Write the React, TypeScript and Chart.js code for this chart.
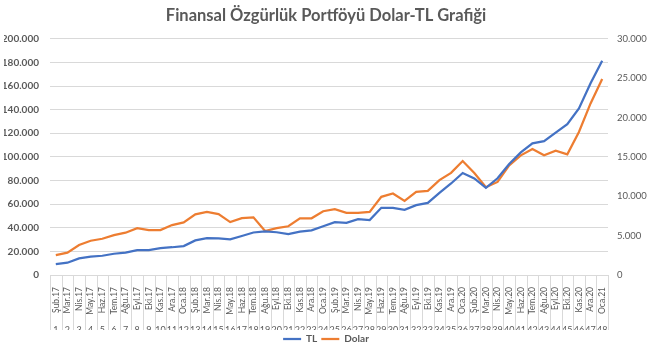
import { useEffect, useRef } from "react";
import { Chart, registerables } from "chart.js";
Chart.register(...registerables);

const titleText = "Finansal Özgürlük Portföyü Dolar-TL Grafiği";

const months = [
  "Şub.17", "Mar.17", "Nis.17", "May.17", "Haz.17", "Tem.17", "Ağu.17", "Eyl.17", "Eki.17", "Kas.17", "Ara.17", "Oca.18",
  "Şub.18", "Mar.18", "Nis.18", "May.18", "Haz.18", "Tem.18", "Ağu.18", "Eyl.18", "Eki.18", "Kas.18", "Ara.18", "Oca.19",
  "Şub.19", "Mar.19", "Nis.19", "May.19", "Haz.19", "Tem.19", "Ağu.19", "Eyl.19", "Eki.19", "Kas.19", "Ara.19", "Oca.20",
  "Şub.20", "Mar.20", "Nis.20", "May.20", "Haz.20", "Tem.20", "Ağu.20", "Eyl.20", "Eki.20", "Kas.20", "Ara.20", "Oca.21",
];

const indexLabels = [
  "1", "2", "3", "4", "5", "6", "7", "8", "9", "10", "11", "12",
  "13", "14", "15", "16", "17", "18", "19", "20", "21", "22", "23", "24",
  "25", "26", "27", "28", "29", "30", "31", "32", "33", "34", "35", "36",
  "37", "38", "39", "40", "41", "42", "43", "44", "45", "46", "47", "48",
];

const tlValues = [
  9300, 10400, 14100, 15500, 16300, 18000, 18900, 21100, 21100, 22800, 23500, 24500,
  29300, 31200, 31000, 30200, 33000, 36000, 37000, 36200, 34600, 36800, 37800, 41300,
  44800, 44200, 47300, 46500, 56900, 56900, 55200, 59200, 61100, 69600, 77500, 86400,
  81800, 73800, 81900, 94000, 103800, 111500, 113400, 120600, 127700, 141000, 162300, 181500,
];

const dolarValues = [
  2535, 2835, 3810, 4350, 4605, 5070, 5370, 5955, 5700, 5700, 6345, 6675,
  7700, 8000, 7725, 6720, 7230, 7330, 5580, 5960, 6190, 7200, 7200, 8100,
  8350, 7905, 7905, 8025, 9930, 10350, 9420, 10560, 10695, 12045, 12975, 14480,
  12950, 11150, 11820, 13920, 15200, 16000, 15210, 15780, 15330, 18165, 21795, 24900,
];

const leftTicks = { min: 0, max: 200000, step: 20000 };
const rightTicks = { min: 0, max: 30000, step: 5000 };

const FONT = "Lato, 'Open Sans', sans-serif";
const GREY = "#595959";
const GRID = "#d9d9d9";

const fmt = (v: number | string) =>
  String(v).replace(/\B(?=(\d{3})+(?!\d))/g, ".");

export default function App() {
  const ref = useRef<HTMLCanvasElement>(null);

  useEffect(() => {
    document.body.style.margin = "0";
    const sepPlugin = {
      id: "sep",
      afterDraw(chart: any) {
        const x = chart.scales.x;
        const x2 = chart.scales.x2;
        const ctx = chart.ctx;
        const n = months.length;
        const w = (x.right - x.left) / n;
        ctx.save();
        ctx.strokeStyle = GRID;
        ctx.lineWidth = 1;
        for (let i = 0; i <= n; i++) {
          const px = Math.round(x.left + i * w) + 0.5;
          ctx.beginPath();
          ctx.moveTo(px, chart.chartArea.bottom);
          ctx.lineTo(px, x2.bottom);
          ctx.stroke();
        }
        ctx.restore();
      },
    };

    const chart = new Chart(ref.current as HTMLCanvasElement, {
      type: "line",
      data: {
        labels: months,
        datasets: [
          {
            label: "TL",
            data: tlValues,
            borderColor: "#4472C4",
            backgroundColor: "#4472C4",
            borderWidth: 2.25,
            pointRadius: 0,
            tension: 0,
            xAxisID: "x",
            yAxisID: "y",
          },
          {
            label: "Dolar",
            data: dolarValues,
            borderColor: "#ED7D31",
            backgroundColor: "#ED7D31",
            borderWidth: 2.25,
            pointRadius: 0,
            tension: 0,
            xAxisID: "x",
            yAxisID: "y1",
          },
        ],
      },
      options: {
        animation: false,
        responsive: true,
        maintainAspectRatio: false,
        layout: { padding: { left: 4, right: 0, top: 3, bottom: 1 } },
        plugins: {
          title: {
            display: true,
            text: titleText,
            color: GREY,
            font: { family: FONT, size: 16.5, weight: "bold" },
            padding: { top: 3, bottom: 13 },
          },
          legend: {
            position: "bottom",
            labels: {
              usePointStyle: true,
              pointStyle: "line",
              pointStyleWidth: 18,
              color: GREY,
              font: { family: FONT, size: 10, weight: "bold" },
              padding: 4,
            },
          },
          tooltip: { enabled: false },
        },
        scales: {
          x: {
            type: "category",
            labels: months,
            offset: true,
            grid: { display: false },
            border: { display: false },
            afterFit: (s: any) => { s.height = 40; },
            ticks: {
              autoSkip: false,
              minRotation: 90,
              maxRotation: 90,
              color: GREY,
              font: { family: FONT, size: 8.5 },
              padding: 4,
            },
          },
          x2: {
            type: "category",
            labels: indexLabels,
            position: "bottom",
            offset: true,
            grid: { display: false },
            border: { display: false },
            afterFit: (s: any) => { s.height = 15; },
            ticks: {
              autoSkip: false,
              maxRotation: 0,
              minRotation: 0,
              color: GREY,
              font: { family: FONT, size: 9 },
              padding: 2,
            },
          },
          y: {
            position: "left",
            min: leftTicks.min,
            max: leftTicks.max,
            grid: { color: GRID, drawTicks: false },
            border: { display: false },
            afterFit: (s: any) => { s.width = 46; },
            ticks: {
              stepSize: leftTicks.step,
              callback: (v: any) => fmt(v),
              color: GREY,
              font: { family: FONT, size: 10, weight: "bold" },
              padding: 11,
            },
          },
          y1: {
            position: "right",
            min: rightTicks.min,
            max: rightTicks.max,
            grid: { display: false, drawTicks: false },
            border: { display: false },
            afterFit: (s: any) => { s.width = 40; },
            ticks: {
              stepSize: rightTicks.step,
              callback: (v: any) => fmt(v),
              color: GREY,
              font: { family: FONT, size: 9.5 },
              padding: 9,
            },
          },
        },
      },
      plugins: [sepPlugin],
    } as any);
    return () => chart.destroy();
  }, []);

  return (
    <div style={{ width: 648, height: 355, position: "relative" }}>
      <canvas ref={ref} />
    </div>
  );
}
